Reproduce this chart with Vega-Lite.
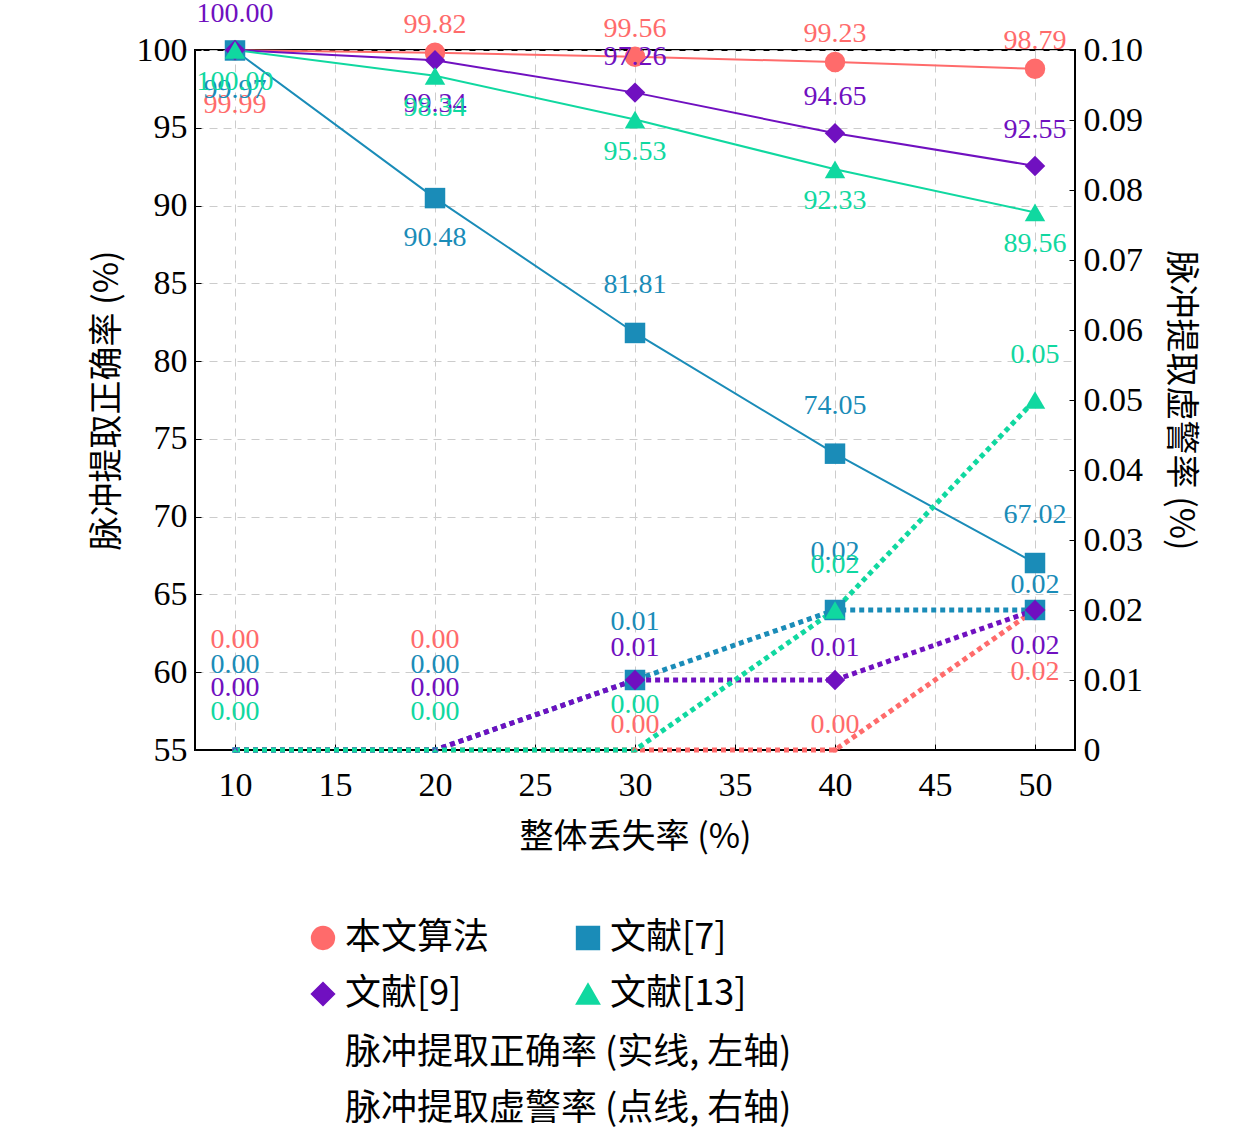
{
"$schema":"https://vega.github.io/schema/vega-lite/v6.json",
"width":880,"height":700,
"padding":{"left":90,"top":0,"right":10,"bottom":5},
"config":{"font":"'Liberation Serif', 'Noto Sans CJK SC'","view":{"stroke":"black","strokeWidth":2},
 "axis":{"labelFontSize":34,"titleFontSize":34,"labelColor":"black","titleColor":"black","titleFontWeight":"normal","domainColor":"black","tickColor":"black","gridDash":[8,6],"gridColor":"#cccccc","tickSize":-6},
 "legend":{"labelFontSize":36,"labelColor":"black","symbolSize":500,"symbolStrokeWidth":2,"labelLimit":0}},
"data":{"values":[
{"s":"本文算法","x":10,"acc":99.99,"fa":0.0,"al":"99.99","fl":"0.00"},
{"s":"本文算法","x":20,"acc":99.82,"fa":0.0,"al":"99.82","fl":"0.00"},
{"s":"本文算法","x":30,"acc":99.56,"fa":0.0,"al":"99.56","fl":"0.00"},
{"s":"本文算法","x":40,"acc":99.23,"fa":0.0,"al":"99.23","fl":"0.00"},
{"s":"本文算法","x":50,"acc":98.79,"fa":0.02,"al":"98.79","fl":"0.02"},
{"s":"文献[7]","x":10,"acc":99.97,"fa":0.0,"al":"99.97","fl":"0.00"},
{"s":"文献[7]","x":20,"acc":90.48,"fa":0.0,"al":"90.48","fl":"0.00"},
{"s":"文献[7]","x":30,"acc":81.81,"fa":0.01,"al":"81.81","fl":"0.01"},
{"s":"文献[7]","x":40,"acc":74.05,"fa":0.02,"al":"74.05","fl":"0.02"},
{"s":"文献[7]","x":50,"acc":67.02,"fa":0.02,"al":"67.02","fl":"0.02"},
{"s":"文献[9]","x":10,"acc":100.0,"fa":0.0,"al":"100.00","fl":"0.00"},
{"s":"文献[9]","x":20,"acc":99.34,"fa":0.0,"al":"99.34","fl":"0.00"},
{"s":"文献[9]","x":30,"acc":97.26,"fa":0.01,"al":"97.26","fl":"0.01"},
{"s":"文献[9]","x":40,"acc":94.65,"fa":0.01,"al":"94.65","fl":"0.01"},
{"s":"文献[9]","x":50,"acc":92.55,"fa":0.02,"al":"92.55","fl":"0.02"},
{"s":"文献[13]","x":10,"acc":100.0,"fa":0.0,"al":"100.00","fl":"0.00"},
{"s":"文献[13]","x":20,"acc":98.34,"fa":0.0,"al":"98.34","fl":"0.00"},
{"s":"文献[13]","x":30,"acc":95.53,"fa":0.0,"al":"95.53","fl":"0.00"},
{"s":"文献[13]","x":40,"acc":92.33,"fa":0.02,"al":"92.33","fl":"0.02"},
{"s":"文献[13]","x":50,"acc":89.56,"fa":0.05,"al":"89.56","fl":"0.05"}
]},
"encoding":{
 "x":{"field":"x","type":"quantitative","scale":{"domain":[8,52],"nice":false},"axis":{"values":[10,15,20,25,30,35,40,45,50],"title":"整体丢失率 (%)","titleFont":"Noto Sans CJK SC","titleFontWeight":"normal","labelPadding":24,"titlePadding":18}},
 "color":{"field":"s","type":"nominal","scale":{"domain":["本文算法","文献[9]","文献[7]","文献[13]"],"range":["#ff6b6b","#7010c0","#1a8cb8","#10d8a0"]},
   "legend":{"orient":"none","legendX":110,"legendY":870,"columns":2,"columnPadding":80,"rowPadding":20,"title":null,"labelFont":"Noto Sans CJK SC","symbolStrokeWidth":2}},
 "shape":{"field":"s","type":"nominal","scale":{"domain":["本文算法","文献[9]","文献[7]","文献[13]"],"range":["circle","diamond","square","triangle-up"]},"legend":null}
},
"layer":[
 {"encoding":{"y":{"field":"acc","type":"quantitative","scale":{"domain":[55,100],"nice":false,"zero":false},"axis":{"values":[55,60,65,70,75,80,85,90,95,100],"title":"脉冲提取正确率 (%)","titleFont":"Noto Sans CJK SC","labelPadding":14,"titlePadding":12}}},
  "layer":[
   {"mark":{"type":"line","strokeWidth":2}},
   {"mark":{"type":"point","filled":true,"size":420,"opacity":1}},
   {"mark":{"type":"text","fontSize":28,"dy":-28},"transform":[{"filter":"datum.s=='本文算法' && datum.x>10"}],"encoding":{"text":{"field":"al"}}},
   {"mark":{"type":"text","fontSize":28,"dy":55},"transform":[{"filter":"datum.s=='本文算法' && datum.x==10"}],"encoding":{"text":{"field":"al"}}},
   {"mark":{"type":"text","fontSize":28,"dy":-48},"transform":[{"filter":"datum.s=='文献[7]' && datum.x>20"}],"encoding":{"text":{"field":"al"}}},
   {"mark":{"type":"text","fontSize":28,"dy":40},"transform":[{"filter":"datum.s=='文献[7]' && datum.x<=20"}],"encoding":{"text":{"field":"al"}}},
   {"mark":{"type":"text","fontSize":28,"dy":-36},"transform":[{"filter":"datum.s=='文献[9]' && datum.x!=20"}],"encoding":{"text":{"field":"al"}}},
   {"mark":{"type":"text","fontSize":28,"dy":44},"transform":[{"filter":"datum.s=='文献[9]' && datum.x==20"}],"encoding":{"text":{"field":"al"}}},
   {"mark":{"type":"text","fontSize":28,"dy":32},"transform":[{"filter":"datum.s=='文献[13]'"}],"encoding":{"text":{"field":"al"}}}
  ]},
 {"encoding":{"y":{"field":"fa","type":"quantitative","scale":{"domain":[0,0.1],"nice":false},"axis":{"orient":"right","values":[0,0.01,0.02,0.03,0.04,0.05,0.06,0.07,0.08,0.09,0.1],"labelExpr":"datum.value==0?'0':format(datum.value,'.2f')","title":"脉冲提取虚警率 (%)","titleFont":"Noto Sans CJK SC","grid":false,"labelPadding":14,"titlePadding":20}}},
  "layer":[
   {"mark":{"type":"line","strokeWidth":5,"strokeDash":[5,5]},
    "encoding":{"strokeDash":{"datum":"脉冲提取虚警率 (点线, 右轴)","type":"nominal","scale":{"domain":["脉冲提取正确率 (实线, 左轴)","脉冲提取虚警率 (点线, 右轴)"],"range":[[1,0],[5,4]]},
     "legend":{"orient":"none","legendX":110,"legendY":985,"title":null,"labelFont":"Noto Sans CJK SC","symbolStrokeColor":"black","symbolStrokeWidth":3,"symbolType":"stroke","rowPadding":20,"symbolSize":800}}}},
   {"mark":{"type":"point","filled":true,"size":420,"opacity":1},"transform":[{"filter":"datum.fa>0"}]},
   {"mark":{"type":"text","fontSize":28,"dy":-110},"transform":[{"filter":"datum.s=='本文算法' && datum.x<30"}],"encoding":{"text":{"field":"fl"}}},
   {"mark":{"type":"text","fontSize":28,"dy":-25},"transform":[{"filter":"datum.s=='本文算法' && datum.x>=30 && datum.x<50"}],"encoding":{"text":{"field":"fl"}}},
   {"mark":{"type":"text","fontSize":28,"dy":62},"transform":[{"filter":"datum.s=='本文算法' && datum.x==50"}],"encoding":{"text":{"field":"fl"}}},
   {"mark":{"type":"text","fontSize":28,"dy":-85},"transform":[{"filter":"datum.s=='文献[7]' && datum.x<30"}],"encoding":{"text":{"field":"fl"}}},
   {"mark":{"type":"text","fontSize":28,"dy":-58},"transform":[{"filter":"datum.s=='文献[7]' && datum.x>=30 && datum.x<50"}],"encoding":{"text":{"field":"fl"}}},
   {"mark":{"type":"text","fontSize":28,"dy":-25},"transform":[{"filter":"datum.s=='文献[7]' && datum.x==50"}],"encoding":{"text":{"field":"fl"}}},
   {"mark":{"type":"text","fontSize":28,"dy":-62},"transform":[{"filter":"datum.s=='文献[9]' && datum.x<30"}],"encoding":{"text":{"field":"fl"}}},
   {"mark":{"type":"text","fontSize":28,"dy":-32},"transform":[{"filter":"datum.s=='文献[9]' && datum.x>=30 && datum.x<50"}],"encoding":{"text":{"field":"fl"}}},
   {"mark":{"type":"text","fontSize":28,"dy":36},"transform":[{"filter":"datum.s=='文献[9]' && datum.x==50"}],"encoding":{"text":{"field":"fl"}}},
   {"mark":{"type":"text","fontSize":28,"dy":-38},"transform":[{"filter":"datum.s=='文献[13]' && datum.x<=20"}],"encoding":{"text":{"field":"fl"}}},
   {"mark":{"type":"text","fontSize":28,"dy":-45},"transform":[{"filter":"datum.s=='文献[13]' && datum.x>20"}],"encoding":{"text":{"field":"fl"}}}
  ]}
],
"resolve":{"scale":{"y":"independent"}}
}
